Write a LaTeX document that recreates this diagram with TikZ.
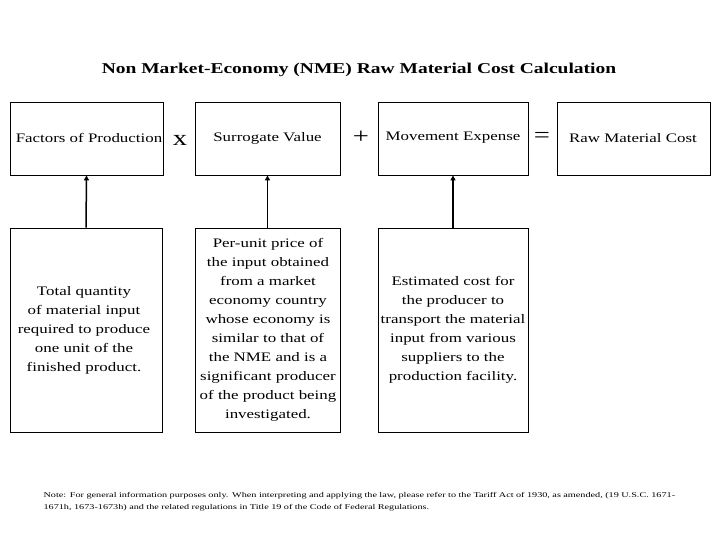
\documentclass[tikz,border=0pt]{standalone}
\usepackage{fontspec}
\setmainfont{Liberation Serif}[FakeStretch=1.3]
\newfontfamily\notefont{Liberation Serif}[FakeStretch=1.4]
\usetikzlibrary{arrows.meta}
\begin{document}
\begin{tikzpicture}[x=1pt,y=-1pt,
 bx/.style={draw,line width=0.8pt,inner sep=0pt},
 lbl/.style={font=\fontsize{13}{15}\selectfont},
 body/.style={font=\fontsize{13}{19}\selectfont,align=center},
 op/.style={font=\fontsize{22}{22}\selectfont},
 arr/.style={line width=1.5pt,-{Triangle[length=5pt,width=5pt]}}]
\useasboundingbox (0,0) rectangle (720,540);
\node[font=\bfseries\fontsize{15}{18}\selectfont] (title) at (359,70) {Non Market-Economy (NME) Raw Material Cost Calculation};
\node[bx,minimum width=153,minimum height=73] (t1) at (86.5,138.5) {};
\node[lbl] at (89,138) {Factors of Production};
\node[op] (x) at (180,140) {x};
\node[bx,minimum width=145,minimum height=73] (t2) at (267.5,138.5) {};
\node[lbl] at (267.5,138) {Surrogate Value};
\node[op] (p) at (361,137) {+};
\node[bx,minimum width=150,minimum height=73] (t3) at (453,138.5) {};
\node[lbl] at (453,138) {Movement Expense};
\node[op] (e) at (542,137) {=};
\node[bx,minimum width=153,minimum height=73] (t4) at (633.5,138.5) {};
\node[lbl] at (633,138) {Raw Material Cost};
\node[bx,minimum width=152,minimum height=204] (b1) at (86,330) {};
\node[body] at (84,330) {Total quantity\\of material input\\required to produce\\one unit of the\\finished product.};
\node[bx,minimum width=145,minimum height=204] (b2) at (267.5,330) {};
\node[body] at (268,330) {Per-unit price of\\the input obtained\\from a market\\economy country\\whose economy is\\similar to that of\\the NME and is a\\significant producer\\of the product being\\investigated.};
\node[bx,minimum width=150,minimum height=204] (b3) at (453,330) {};
\node[body] at (453,330) {Estimated cost for\\the producer to\\transport the material\\input from various\\suppliers to the\\production facility.};
\draw[arr] (b1.north) -- (t1.south);
\draw[arr] (b2.north) -- (t2.south);
\draw[arr] (b3.north) -- (t3.south);
\node[anchor=north west,align=left,font=\notefont\fontsize{7.3}{12}\selectfont,text width=670] (note) at (40,489) {Note: For general information purposes only. When interpreting and applying the law, please refer to the Tariff Act of 1930, as amended, (19 U.S.C. 1671-\\1671h, 1673-1673h) and the related regulations in Title 19 of the Code of Federal Regulations.};
\end{tikzpicture}
\end{document}
